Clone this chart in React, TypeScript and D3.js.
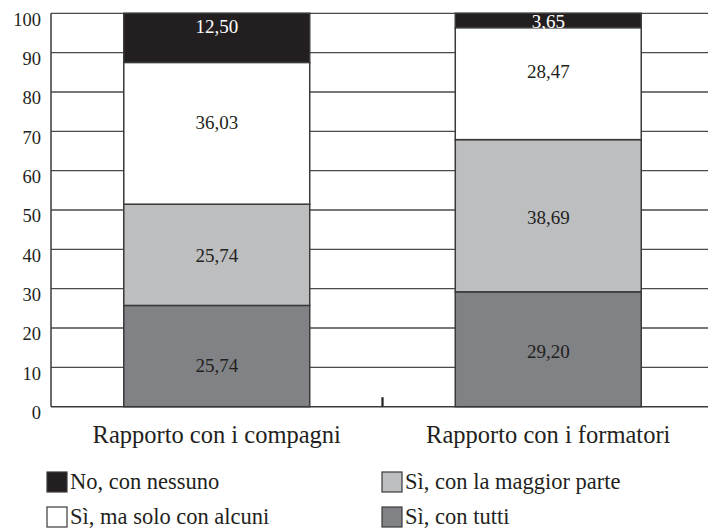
import React from "react";
import * as d3 from "d3";

// Stacked percentage bars: relationships with classmates and with trainers
const categories = ["Rapporto con i compagni", "Rapporto con i formatori"];
const seriesNames = [
  "Sì, con tutti",
  "Sì, con la maggior parte",
  "Sì, ma solo con alcuni",
  "No, con nessuno",
];
const conTutti = [25.74, 29.2];
const maggiorParte = [25.74, 38.69];
const soloAlcuni = [36.03, 28.47];
const nessuno = [12.5, 3.65];
const yTicks = [0, 10, 20, 30, 40, 50, 60, 70, 80, 90, 100];

// legend layout: two rows, two columns
const legendOrder = [
  ["No, con nessuno", "Sì, con la maggior parte"],
  ["Sì, ma solo con alcuni", "Sì, con tutti"],
];

const W = 708;
const H = 528;
const FONT =
  "'Liberation Serif', 'DejaVu Serif', 'Times New Roman', Times, serif";
const INK = "#231f20";
const EDGE = "#3a3a3a";

const fills: Record<string, string> = {
  "Sì, con tutti": "#808285",
  "Sì, con la maggior parte": "#bcbec0",
  "Sì, ma solo con alcuni": "#ffffff",
  "No, con nessuno": "#231f20",
};
const labelInk: Record<string, string> = {
  "Sì, con tutti": INK,
  "Sì, con la maggior parte": INK,
  "Sì, ma solo con alcuni": INK,
  "No, con nessuno": "#ffffff",
};
// vertical nudge (px) of each value label from its segment centre
const labelNudge: Record<string, number[]> = {
  "Sì, con tutti": [9, 2],
  "Sì, con la maggior parte": [1, 2],
  "Sì, ma solo con alcuni": [-11, -12],
  "No, con nessuno": [-11, 1],
};

const fmt = d3
  .formatLocale({ decimal: ",", thousands: ".", grouping: [3], currency: ["", "€"] })
  .format(".2f");

export default function App() {
  const margin = { left: 51, right: -6, top: 13.3, bottom: 121.3 };
  const x = d3
    .scaleBand<string>()
    .domain(categories)
    .range([margin.left, W - margin.right])
    .paddingInner(0.439)
    .paddingOuter(0.2195);
  const y = d3
    .scaleLinear()
    .domain([0, 100])
    .range([H - margin.bottom, margin.top]);

  const rows = categories.map((c, i) => ({
    category: c,
    "Sì, con tutti": conTutti[i],
    "Sì, con la maggior parte": maggiorParte[i],
    "Sì, ma solo con alcuni": soloAlcuni[i],
    "No, con nessuno": nessuno[i],
  }));
  const stacked = d3.stack<any>().keys(seriesNames)(rows);

  const x0 = margin.left;
  const x1 = W - margin.right;
  const step = x.step();
  const separator = x(categories[0])! - x.paddingOuter() * step + step;

  return (
    <div style={{ position: "absolute", left: 0, top: 0 }}>
      <svg
        width={W}
        height={H}
        style={{ display: "block", background: "#fff", fontFamily: FONT }}
      >
        {/* gridlines */}
        {yTicks
          .filter((t) => t > 0)
          .map((t) => (
            <line
              key={t}
              x1={x0}
              x2={x1}
              y1={y(t)}
              y2={y(t)}
              stroke="#4a4a4a"
              strokeWidth={1.3}
            />
          ))}
        {/* axes */}
        <line x1={x0} x2={x0} y1={y(100)} y2={y(0)} stroke={EDGE} strokeWidth={1.5} />
        <line x1={x0} x2={x1} y1={y(0)} y2={y(0)} stroke={EDGE} strokeWidth={1.5} />
        <line
          x1={separator}
          x2={separator}
          y1={y(0)}
          y2={y(0) - 9.5}
          stroke={INK}
          strokeWidth={2.2}
        />
        {/* y tick labels */}
        {yTicks.map((t) => (
          <text
            key={t}
            x={41}
            y={y(t) + 6}
            dy="0.35em"
            textAnchor="end"
            fontSize={18.5}
            fill={INK}
          >
            {t}
          </text>
        ))}
        {/* stacked segments */}
        {stacked.map((layer) =>
          layer.map((d, i) => (
            <rect
              key={layer.key + i}
              x={x(categories[i])}
              width={x.bandwidth()}
              y={y(d[1])}
              height={y(d[0]) - y(d[1])}
              fill={fills[layer.key]}
              stroke={EDGE}
              strokeWidth={1.5}
            />
          ))
        )}
        {/* value labels */}
        {stacked.map((layer) =>
          layer.map((d, i) => (
            <text
              key={"l" + layer.key + i}
              x={x(categories[i])! + x.bandwidth() / 2}
              y={(y(d[0]) + y(d[1])) / 2 + labelNudge[layer.key][i]}
              dy="0.35em"
              textAnchor="middle"
              fontSize={19}
              fill={labelInk[layer.key]}
            >
              {fmt(d[1] - d[0])}
            </text>
          ))
        )}
        {/* category labels */}
        {categories.map((c) => (
          <text
            key={c}
            x={x(c)! + x.bandwidth() / 2}
            y={443}
            textAnchor="middle"
            fontSize={24.5}
            fill={INK}
          >
            {c}
          </text>
        ))}
        {/* legend */}
        {legendOrder.map((row, r) =>
          row.map((name, c) => {
            const lx = c === 0 ? 47 : 382;
            const ly = 472 + r * 35;
            return (
              <g key={name} transform={`translate(${lx},${ly})`}>
                <rect
                  x={0}
                  y={0}
                  width={20}
                  height={20}
                  fill={fills[name]}
                  stroke={EDGE}
                  strokeWidth={1.2}
                />
                <text x={23} y={17} fontSize={22.5} fill={INK}>
                  {name}
                </text>
              </g>
            );
          })
        )}
      </svg>
    </div>
  );
}
